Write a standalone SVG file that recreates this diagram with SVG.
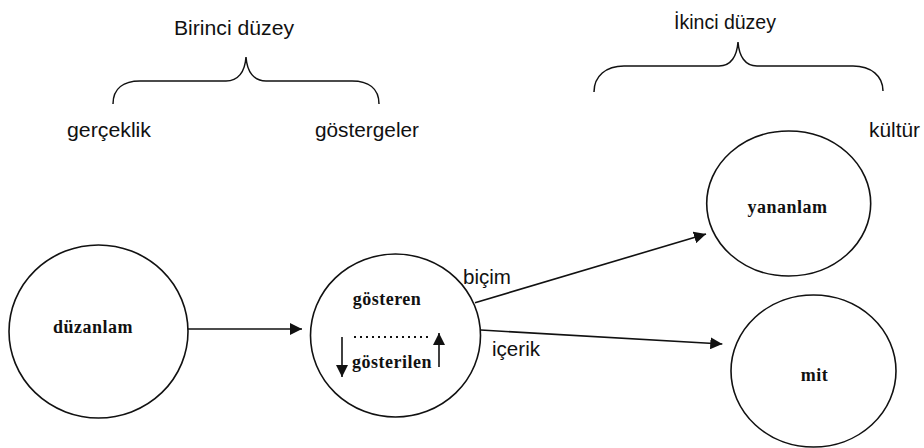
<svg xmlns="http://www.w3.org/2000/svg" width="924" height="448" viewBox="0 0 924 448">
<style>
.node{fill:#fff;stroke:#111;stroke-width:1.6}
.lbl{font-family:"Liberation Sans",Arial,sans-serif;font-size:20px;fill:#111}
.bold{font-family:"Liberation Serif","Times New Roman",serif;font-size:18px;font-weight:bold;letter-spacing:0.5px;fill:#111;text-anchor:middle}
.brace{fill:none;stroke:#111;stroke-width:1.5}
.conn{fill:none;stroke:#111;stroke-width:1.6}
</style>
<defs>
<marker id="ah" markerUnits="userSpaceOnUse" markerWidth="13" markerHeight="12" refX="12" refY="6" orient="auto">
<path d="M0,0 L12,6 L0,12 Z" fill="#111"/>
</marker>
</defs>
<g id="brace-1">
<path class="brace" d="M113,104 C113,88 124,81 140,81 L226,81 C238,81 245,72 246,57 C247,72 254,81 266,81 L352,81 C368,81 379,88 379,104"/>
<text class="lbl" x="174" y="35" textLength="120" lengthAdjust="spacingAndGlyphs">Birinci düzey</text>
</g>
<g id="brace-2">
<path class="brace" d="M594,92 C594,76 606,66 624,66 L719,66 C731,66 737,56 738,42 C739,56 745,66 757,66 L853,66 C871,66 883,76 883,91"/>
<text class="lbl" x="674" y="29" textLength="102" lengthAdjust="spacingAndGlyphs">İkinci düzey</text>
</g>
<g id="labels">
<text class="lbl" x="67" y="137" textLength="84" lengthAdjust="spacingAndGlyphs">gerçeklik</text>
<text class="lbl" x="315" y="137" textLength="104" lengthAdjust="spacingAndGlyphs">göstergeler</text>
<text class="lbl" x="869" y="137" textLength="51" lengthAdjust="spacingAndGlyphs">kültür</text>
</g>
<g id="duzanlam">
<ellipse class="node" cx="98.5" cy="331.5" rx="89.5" ry="86.5"/>
<text class="bold" x="93" y="333">düzanlam</text>
</g>
<g id="gosteren">
<ellipse class="node" cx="395.5" cy="335.5" rx="85" ry="81.5"/>
<text class="bold" x="387" y="305">gösteren</text>
<line x1="354" y1="337" x2="429" y2="337" stroke="#111" stroke-width="2" stroke-dasharray="2 4"/>
<text class="bold" x="392" y="368">gösterilen</text>
<line x1="342" y1="337" x2="342" y2="377" stroke="#111" stroke-width="1.6" marker-end="url(#ah)"/>
<line x1="439" y1="367" x2="439" y2="333" stroke="#111" stroke-width="1.6" marker-end="url(#ah)"/>
</g>
<g id="yananlam">
<ellipse class="node" cx="788.7" cy="203.5" rx="82" ry="72.5"/>
<text class="bold" x="787.5" y="212.7">yananlam</text>
</g>
<g id="mit">
<ellipse class="node" cx="813.5" cy="371" rx="82.5" ry="76"/>
<text class="bold" x="814.5" y="380.7">mit</text>
</g>
<g id="connectors">
<line class="conn" x1="188" y1="329" x2="302" y2="329" marker-end="url(#ah)"/>
<line class="conn" x1="475" y1="302.7" x2="706" y2="234" marker-end="url(#ah)"/>
<line class="conn" x1="480.7" y1="330" x2="722.3" y2="344" marker-end="url(#ah)"/>
<text class="lbl" x="463" y="284" textLength="48" lengthAdjust="spacingAndGlyphs">biçim</text>
<text class="lbl" x="492" y="356" textLength="48" lengthAdjust="spacingAndGlyphs">içerik</text>
</g>
</svg>
